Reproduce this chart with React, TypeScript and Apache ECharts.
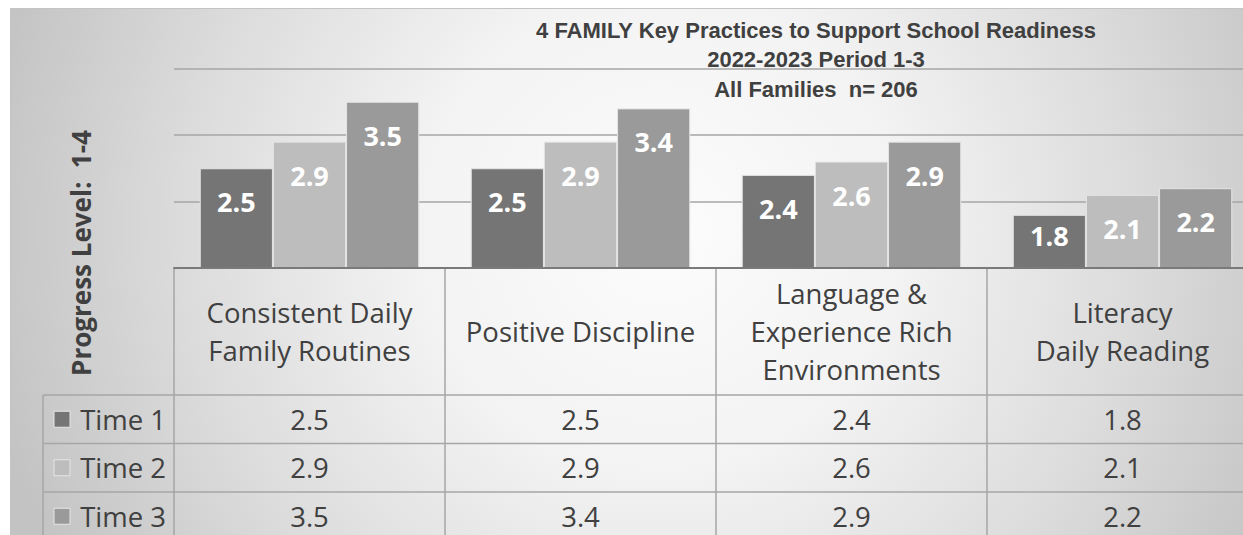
import React, { useEffect, useRef } from "react";
import * as echarts from "echarts";

const categories = [
  "Consistent Daily\nFamily Routines",
  "Positive Discipline",
  "Language &\nExperience Rich\nEnvironments",
  "Literacy\nDaily Reading",
];
const seriesNames = ["Time 1", "Time 2", "Time 3"];
const time1 = [2.5, 2.5, 2.4, 1.8];
const time2 = [2.9, 2.9, 2.6, 2.1];
const time3 = [3.5, 3.4, 2.9, 2.2];
const titleLines = [
  "4 FAMILY Key Practices to Support School Readiness",
  "2022-2023 Period 1-3",
  "All Families  n= 206",
];
const yAxisTitle = "Progress Level:  1-4";
const yMin = 1;
const yMax = 4;
const yInterval = 1;

const seriesValues = [time1, time2, time3];
const colors = ["#757575", "#bdbdbd", "#9a9a9a"];
const textColor = "#404040";
const tableLine = "#a6a6a6";

const W = 1262;
const H = 527;

export default function App() {
  const ref = useRef<HTMLDivElement>(null);

  useEffect(() => {
    if (!ref.current) return;
    const chart = echarts.init(ref.current, undefined, { renderer: "svg" });

    chart.setOption({
      animation: false,
      grid: { left: 164, right: 14, top: 60.5, bottom: 267, containLabel: false },
      xAxis: {
        type: "category",
        data: categories,
        axisLabel: { show: false },
        axisTick: { show: false },
        axisLine: { show: true, lineStyle: { color: "#7a7a7a", width: 2 } },
        z: 5,
      },
      yAxis: {
        type: "value",
        min: yMin,
        max: yMax,
        interval: yInterval,
        axisLabel: { show: false },
        axisLine: { show: false },
        axisTick: { show: false },
        splitLine: { show: true, lineStyle: { color: "#a6a6a6", width: 1.5 } },
      },
      series: seriesNames.map((name, i) => ({
        name,
        type: "bar",
        barGap: "0%",
        barCategoryGap: "19%",
        itemStyle: { color: colors[i], borderColor: "#e4e4e4", borderWidth: 1 },
        label: {
          show: true,
          position: "insideTop",
          distance: 20,
          color: "#ffffff",
          fontFamily: "Open Sans",
          fontWeight: "bold",
          fontSize: 27,
          formatter: (p: any) => String(p.value),
        },
        data: seriesValues[i].map((v) =>
          v < 2 ? { value: v, label: { distance: 7 } } : v
        ),
      })),
    });

    const c0 = chart.convertToPixel({ xAxisIndex: 0 }, 0) as number;
    const c1 = chart.convertToPixel({ xAxisIndex: 0 }, 1) as number;
    const band = c1 - c0;
    const baseY = chart.convertToPixel({ yAxisIndex: 0 }, yMin) as number;
    const headerBottom = baseY + 127;
    const rowH = 48.5;
    const tableLeft = c0 - band / 2;
    const labelLeft = tableLeft - 131;
    const tableRight = c0 + band * (categories.length - 0.5);
    const bottom = H + 20;

    const g: any[] = [];
    g.push({
      type: "rect",
      z: -10,
      silent: true,
      shape: { x: 0.5, y: 0.5, width: W + 10, height: H + 20 },
      style: {
        fill: new echarts.graphic.RadialGradient(
          650,
          222,
          690,
          [
            { offset: 0, color: "#fcfcfc" },
            { offset: 0.35, color: "#f3f3f3" },
            { offset: 0.7, color: "#dbdbdb" },
            { offset: 1, color: "#c3c3c3" },
          ],
          true
        ),
        stroke: "#c4c4c4",
        lineWidth: 1,
      },
    });

    // title
    g.push({
      type: "text",
      z: 10,
      x: 806,
      y: 51.5,
      style: {
        text: titleLines.join("\n"),
        fill: textColor,
        font: 'bold 22px "Liberation Sans", Arial, sans-serif',
        align: "center",
        verticalAlign: "middle",
        textAlign: "center",
        textVerticalAlign: "middle",
        lineHeight: 29.5,
      },
    });

    // y axis title
    g.push({
      type: "text",
      z: 10,
      x: 71,
      y: 245,
      rotation: Math.PI / 2,
      style: {
        text: yAxisTitle,
        fill: textColor,
        font: 'bold 26px "Open Sans", sans-serif',
        align: "center",
        verticalAlign: "middle",
        textAlign: "center",
        textVerticalAlign: "middle",
      },
    });

    const line = (x1: number, y1: number, x2: number, y2: number) => ({
      type: "line",
      z: 10,
      silent: true,
      shape: { x1, y1, x2, y2 },
      style: { stroke: tableLine, lineWidth: 1.5 },
    });

    // vertical column borders
    for (let i = 0; i <= categories.length; i++) {
      const x = tableLeft + band * i;
      g.push(line(x, baseY + 1, x, bottom));
    }
    g.push(line(labelLeft, headerBottom, labelLeft, bottom));
    // horizontal row borders
    for (let r = 0; r < seriesNames.length; r++) {
      const y = headerBottom + rowH * r;
      g.push(line(labelLeft, y, tableRight, y));
    }

    // header cells
    categories.forEach((cat, i) => {
      g.push({
        type: "text",
        z: 10,
        x: c0 + band * i,
        y: (baseY + headerBottom) / 2,
        style: {
          text: cat,
          fill: textColor,
          font: '27.5px "Open Sans", sans-serif',
          align: "center",
          verticalAlign: "middle",
          textAlign: "center",
          textVerticalAlign: "middle",
          lineHeight: 38,
        },
      });
    });

    // data rows
    seriesNames.forEach((name, r) => {
      const cy = headerBottom + rowH * r + rowH / 2;
      g.push({
        type: "rect",
        z: 10,
        shape: { x: labelLeft + 11, y: cy - 8, width: 16, height: 16 },
        style: { fill: colors[r], stroke: "#e6e6e6", lineWidth: 1 },
      });
      g.push({
        type: "text",
        z: 10,
        x: tableLeft - 8,
        y: cy,
        style: {
          text: name,
          fill: textColor,
          font: '27.5px "Open Sans", sans-serif',
          align: "right",
          verticalAlign: "middle",
          textAlign: "right",
          textVerticalAlign: "middle",
        },
      });
      seriesValues[r].forEach((v, i) => {
        g.push({
          type: "text",
          z: 10,
          x: c0 + band * i,
          y: cy,
          style: {
            text: String(v),
            fill: textColor,
            font: '27.5px "Open Sans", sans-serif',
            align: "center",
            verticalAlign: "middle",
            textAlign: "center",
            textVerticalAlign: "middle",
          },
        });
      });
    });

    chart.setOption({ graphic: { elements: g } });

    return () => chart.dispose();
  }, []);

  return (
    <div
      style={{
        position: "absolute",
        left: 10,
        top: 8,
        width: 1233,
        height: H,
        overflow: "hidden",
      }}
    >
      <div ref={ref} style={{ width: W, height: H }} />
    </div>
  );
}
